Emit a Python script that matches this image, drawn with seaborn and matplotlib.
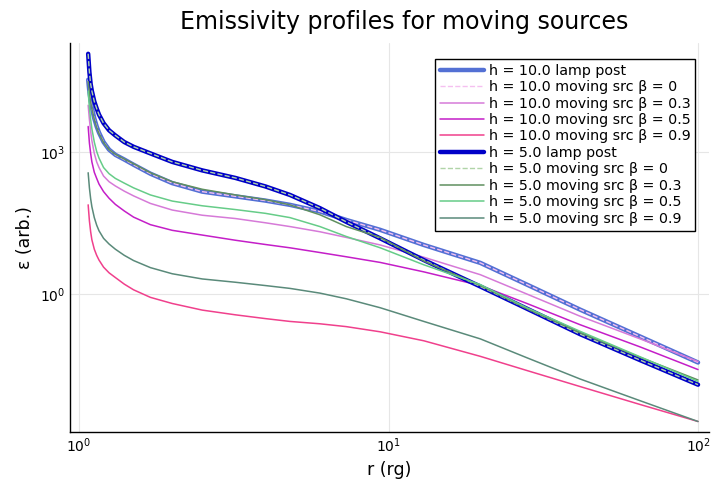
import matplotlib
matplotlib.use("Agg")
import matplotlib.pyplot as plt
import matplotlib.ticker as mticker
import numpy as np
import pandas as pd
import seaborn as sns

# radius grid (rg); emissivities stored as log10 values
r = [1.07, 1.08, 1.09, 1.1, 1.12, 1.14, 1.16, 1.2, 1.25, 1.31, 1.4, 1.5, 1.7, 2.0,
     2.5, 3.2, 4.0, 4.8, 6.0, 7.3, 9.4, 13, 19.8, 28, 41.6, 65, 100]

h10_lamp = [4.54, 4.28, 4.10, 3.95, 3.72, 3.55, 3.42, 3.22, 3.06, 2.95, 2.85, 2.74, 2.55, 2.35,
            2.17, 2.07, 1.98, 1.89, 1.75, 1.57, 1.36, 1.04, 0.66, 0.20, -0.33, -0.90, -1.45]
h10_b0 = [4.54, 4.28, 4.10, 3.95, 3.72, 3.55, 3.42, 3.22, 3.06, 2.95, 2.85, 2.74, 2.55, 2.35,
          2.17, 2.07, 1.98, 1.89, 1.75, 1.57, 1.36, 1.04, 0.66, 0.20, -0.33, -0.90, -1.45]
h10_b03 = [4.00, 3.70, 3.45, 3.25, 2.98, 2.80, 2.68, 2.50, 2.38, 2.29, 2.18, 2.08, 1.92, 1.78,
           1.67, 1.60, 1.51, 1.43, 1.32, 1.20, 1.04, 0.78, 0.41, 0.00, -0.47, -0.95, -1.43]
h10_b05 = [3.55, 3.20, 2.98, 2.80, 2.58, 2.45, 2.33, 2.17, 2.03, 1.90, 1.76, 1.63, 1.47, 1.35,
           1.25, 1.14, 1.05, 0.98, 0.88, 0.79, 0.67, 0.47, 0.18, -0.20, -0.65, -1.12, -1.60]
h10_b09 = [1.89, 1.55, 1.32, 1.15, 0.95, 0.82, 0.72, 0.57, 0.45, 0.35, 0.21, 0.09, -0.07, -0.20,
           -0.34, -0.44, -0.52, -0.58, -0.63, -0.69, -0.80, -0.99, -1.32, -1.62, -1.96, -2.34, -2.70]

h5_lamp = [5.09, 4.70, 4.45, 4.30, 4.08, 3.93, 3.80, 3.62, 3.47, 3.36, 3.22, 3.12, 2.98, 2.80,
           2.62, 2.46, 2.28, 2.10, 1.82, 1.53, 1.18, 0.72, 0.16, -0.31, -0.85, -1.40, -1.92]
h5_b0 = [5.09, 4.70, 4.45, 4.30, 4.08, 3.93, 3.80, 3.62, 3.47, 3.36, 3.22, 3.12, 2.98, 2.80,
         2.62, 2.46, 2.28, 2.10, 1.82, 1.53, 1.18, 0.72, 0.16, -0.31, -0.85, -1.40, -1.92]
h5_b03 = [4.50, 4.25, 4.07, 3.93, 3.70, 3.53, 3.40, 3.21, 3.06, 2.96, 2.86, 2.76, 2.57, 2.38,
          2.22, 2.10, 2.00, 1.89, 1.68, 1.43, 1.20, 0.70, 0.18, -0.31, -0.82, -1.34, -1.82]
h5_b05 = [4.30, 3.95, 3.70, 3.50, 3.22, 3.02, 2.88, 2.68, 2.55, 2.45, 2.35, 2.25, 2.10, 1.97,
          1.87, 1.79, 1.71, 1.62, 1.43, 1.22, 0.98, 0.62, 0.20, -0.29, -0.79, -1.33, -1.85]
h5_b09 = [2.57, 2.25, 2.02, 1.85, 1.62, 1.46, 1.34, 1.18, 1.06, 0.95, 0.82, 0.71, 0.56, 0.43,
          0.32, 0.25, 0.18, 0.12, 0.02, -0.10, -0.29, -0.58, -0.95, -1.35, -1.80, -2.26, -2.70]

series = [
    ("h = 10.0 lamp post", h10_lamp, "#4060d0", 3.2, "-", 0.9),
    ("h = 10.0 moving src β = 0", h10_b0, "#f5c0f0", 1.0, "--", 1.0),
    ("h = 10.0 moving src β = 0.3", h10_b03, "#d67ad8", 1.1, "-", 1.0),
    ("h = 10.0 moving src β = 0.5", h10_b05, "#c41ec8", 1.1, "-", 1.0),
    ("h = 10.0 moving src β = 0.9", h10_b09, "#f0408c", 1.1, "-", 1.0),
    ("h = 5.0 lamp post", h5_lamp, "#0000c8", 3.2, "-", 1.0),
    ("h = 5.0 moving src β = 0", h5_b0, "#b0d4a8", 1.0, "--", 1.0),
    ("h = 5.0 moving src β = 0.3", h5_b03, "#5f8f5f", 1.1, "-", 1.0),
    ("h = 5.0 moving src β = 0.5", h5_b05, "#66cc88", 1.1, "-", 1.0),
    ("h = 5.0 moving src β = 0.9", h5_b09, "#5a8a7a", 1.1, "-", 1.0),
]

sns.set_style("white")
plt.rcParams["font.family"] = ["DejaVu Sans"]
plt.rcParams["text.color"] = "black"
plt.rcParams["axes.labelcolor"] = "black"

fig = plt.figure(figsize=(7.11, 4.88), dpi=100)
ax = fig.add_axes([0.0985, 0.115, 0.8985, 0.797])

for name, vals, col, lw, ls, a in series:
    df = pd.DataFrame({"r": r, "eps": np.power(10.0, vals)})
    sns.lineplot(data=df, x="r", y="eps", ax=ax, color=col, lw=lw,
                 linestyle=ls, alpha=a, label=name, sort=False)

ax.set_xscale("log")
ax.set_yscale("log")
ax.set_xlim(0.935, 108.4)
ax.set_ylim(10 ** -2.92, 10 ** 5.32)
ax.xaxis.set_major_locator(mticker.FixedLocator([1, 10, 100]))
ax.yaxis.set_major_locator(mticker.FixedLocator([1, 1000]))
ax.xaxis.set_minor_locator(mticker.NullLocator())
ax.yaxis.set_minor_locator(mticker.NullLocator())
ax.tick_params(direction="in", length=5, width=1, labelsize=10, colors="black")
ax.grid(True, color="#e6e6e6", lw=0.8)
ax.set_axisbelow(True)
for s in ["top", "right"]:
    ax.spines[s].set_visible(False)
for s in ["left", "bottom"]:
    ax.spines[s].set_color("black")
    ax.spines[s].set_linewidth(1.0)

ax.set_title("Emissivity profiles for moving sources", fontsize=17, pad=10,
             color="black", x=0.523)
ax.set_xlabel("r (rg)", fontsize=12.5)
ax.set_ylabel("ε (arb.)", fontsize=12.5)

leg = ax.legend(loc="upper right", bbox_to_anchor=(0.99, 0.978), fontsize=10.3,
                handlelength=3.1, labelspacing=0.17, handletextpad=0.3,
                borderpad=0.35, fancybox=False, framealpha=1.0)
leg.get_frame().set_edgecolor("black")
leg.get_frame().set_linewidth(1.0)

fig.savefig("out.png", dpi=100)
